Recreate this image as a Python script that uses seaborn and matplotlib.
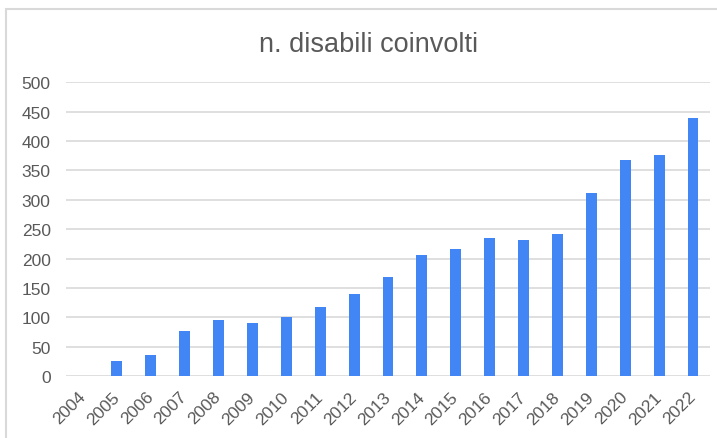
import matplotlib
matplotlib.use("Agg")
import matplotlib.pyplot as plt
from matplotlib.patches import Rectangle
import seaborn as sns
import pandas as pd

# Data
years = [str(y) for y in range(2004, 2023)]
disabili = [0, 25, 36, 77, 95, 90, 101, 118, 139, 169, 206, 217, 235, 232, 242, 312, 367, 376, 440]

df = pd.DataFrame({"anno": years, "n": disabili})

sns.set_theme(style="white")
plt.rcParams["font.family"] = ["Liberation Sans", "DejaVu Sans"]

text_col = "#595959"
grid_col = "#d9d9d9"
bar_col = "#4285f4"

fig = plt.figure(figsize=(7.17, 4.39), dpi=100)
fig.patch.set_facecolor("white")
ax = fig.add_axes([66 / 717, 1 - 377 / 439, 644 / 717, (377 - 83.3) / 439])

sns.barplot(data=df, x="anno", y="n", color=bar_col, width=0.32, saturation=1,
            linewidth=0, ax=ax)

ax.set_xlim(-0.5, len(years) - 0.5)
ax.set_ylim(0, 500)
ax.set_yticks(range(0, 501, 50))
ax.set_xlabel("")
ax.set_ylabel("")

ax.grid(axis="y", color=grid_col, linewidth=1.2)
ax.set_axisbelow(True)
for s in ax.spines.values():
    s.set_visible(False)

ax.tick_params(axis="y", length=0, pad=11, labelsize=12.5, labelcolor=text_col)
ax.tick_params(axis="x", length=0, pad=13, labelsize=12.5, labelcolor=text_col)
for lab in ax.get_xticklabels():
    lab.set_rotation(45)
    lab.set_ha("right")
    lab.set_va("center")
    lab.set_rotation_mode("anchor")

# chart border (Sheets style)
fig.patches.append(Rectangle((6 / 717, -0.1), 2, 1 - 9.5 / 439 + 0.1, transform=fig.transFigure,
                             fill=False, edgecolor=grid_col, linewidth=1.5))

fig.text(368.7 / 717, 1 - 51.7 / 439, "n. disabili coinvolti", ha="center", va="baseline",
         fontsize=19.5, color=text_col)

fig.savefig("out.png", dpi=100)
